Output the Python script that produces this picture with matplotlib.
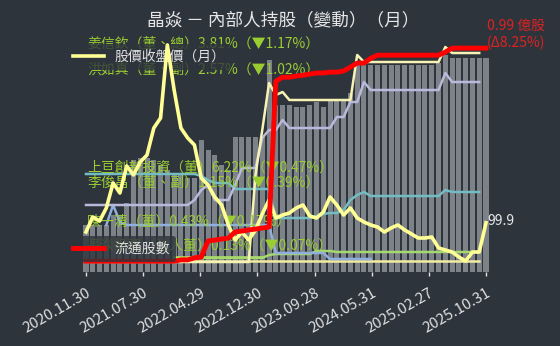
import numpy as np
import matplotlib.pyplot as plt
from matplotlib.lines import Line2D

plt.rcParams['font.family'] = ['Noto Sans CJK TC', 'DejaVu Sans']

BG = '#2e343c'
nan = np.nan

# x tick labels (8 evenly spread points over the monthly index)
tick_labels = ['2020.11.30', '2021.07.30', '2022.04.29', '2022.12.30',
               '2023.09.28', '2024.05.31', '2025.02.27', '2025.10.31']

# monthly close price
price = [89.4, 106.5, 101.9, 116.7, 145.1, 133.7, 164.4, 154.2, 168.9, 176.9,
         207.5, 218.9, 301.8, 250.7, 207.5, 196.2, 188.2, 150.7, 142.8, 129.2,
         120.1, 97.4, 80.3, 89.4, 80.3, 91.7, 110.0, 125.8, 105.3, 108.7,
         111.0, 116.7, 120.1, 107.6, 105.3, 112.1, 129.2, 120.1, 108.7, 116.7,
         105.3, 100.8, 97.4, 95.1, 89.4, 94.0, 97.4, 91.7, 87.2, 82.6,
         82.6, 83.7, 71.3, 69.0, 66.7, 61.0, 56.5, 66.7, 66.7, 99.9]

# shares outstanding (億股)
shares = [0.91453] * 14 + [0.9150, 0.9150, 0.9157, 0.9160, 0.9217, 0.9220, 0.9224,
          0.9227, 0.9249, 0.9252, 0.9256, 0.9259, 0.9263, 0.9266,
          0.9783, 0.9797, 0.9797, 0.9801, 0.9804, 0.9808, 0.9812, 0.9812,
          0.9815, 0.9815, 0.9819, 0.9833, 0.9847, 0.9847, 0.9864] \
         + [0.9875] * 10 + [0.9886] + [0.9900] * 6

# total insider holding (bars)
holding_total = [12.39, 12.39, 12.39, 12.39, 12.90, 12.90, 13.51, 15.70, 15.80, 15.80,
                 15.70, 15.44, 15.19, 14.93, 14.93, 14.78, 14.78, 16.71, 16.20, 15.95,
                 15.44, 15.19, 16.86, 16.86, 16.86, 16.86, 16.86, 20.78, 18.49, 18.49,
                 18.49, 18.39, 18.39, 18.49, 18.64, 18.39, 18.75, 18.75, 18.75, 19.10,
                 20.53, 20.53, 20.53, 20.53, 20.53, 20.53, 20.53, 20.53, 20.53, 20.53,
                 20.53, 20.53, 20.63, 21.03, 20.88, 20.88, 20.88, 20.88, 20.88, 20.88]

# individual insiders
h_jiang = [0.20] * 25 + [1.94, 2.84, 3.78, 3.54, 3.60] + [3.44] * 10 + [4.34] \
          + [4.20] * 12 + [4.50] + [4.38] * 5 + [nan]
h_hong = [1.34] * 16 + [1.44, 1.64, 1.74, 1.44, 1.44, 1.44, 1.74, 2.08, 2.08, 2.08,
                        2.68, 2.84, 2.84, 3.04] + [2.88] * 7 + [3.10, 3.10, 3.40, 3.40, 3.80] \
         + [3.64] * 11 + [3.98] + [3.80] * 5 + [nan]
h_shanggen = [1.96] * 17 + [1.92, 1.84, 1.78, 1.78, 1.78] + [1.66] * 6 + [1.08] * 6 \
             + [1.12, 1.16, 1.18, 1.18, 1.24, 1.44, 1.54, 1.60] + [1.52] * 11 + [1.64] \
             + [1.60] * 5 + [nan]
h_chen = [nan] * 3 + [0.94, 1.34, 1.00] + [0.94] * 22 + [0.38] * 8 + [0.26] * 7 + [nan] * 17
h_green = [nan] * 16 + [0.28] * 11 + [0.34] + [0.36] * 6 + [0.42] * 3 + [0.40] * 22 + [nan]
h_lime = [nan] * 13 + [0.30] * 14 + [nan] * 33
h_pale = [nan] * 15 + [0.22] * 44 + [nan]

label_names = ['姜信欽（董、總）', '洪如真（董、副）', '上亘創新投資（董）',
               '李俊昌（董、副）', '陳一清（董）', '晶焱投資（法人董）']
label_pcts = ['3.81%', '2.57%', '6.22%', '1.15%', '0.43%', '0.13%']
label_chg = ['▼1.17%', '▼1.02%', '▼0.47%', '▼0.39%', '▼0.17%', '▼0.07%']
label_y = [0.966, 0.856, 0.441, 0.377, 0.212, 0.110]

n = len(price)
idx = np.arange(n)

fig = plt.figure(figsize=(5.6, 3.46), dpi=100, facecolor=BG)
rect = [80.3 / 560, 74 / 346, 411.4 / 560, 236 / 346]

ax_bar = fig.add_axes(rect, zorder=1)
ax_bar.set_facecolor(BG)
ax_bar.bar(idx, holding_total, width=0.74, color='#7d8288')
ax_bar.set_ylim(10, 22)
ax_bar.set_xlim(-0.84, n - 1 + 0.84)
for s in ax_bar.spines.values():
    s.set_visible(False)
ax_bar.set_yticks([])
ax_bar.set_xticks(np.linspace(0, n - 1, 8))
ax_bar.set_xticklabels(tick_labels, rotation=30, ha='right', rotation_mode='anchor',
                       color='#e0e0e0', fontsize=10.8)
ax_bar.tick_params(axis='x', colors='#e0e0e0', length=3, width=1, pad=7)


def overlay(z):
    a = ax_bar.twinx()
    a.set_zorder(z)
    a.patch.set_visible(False)
    a.axis('off')
    return a


# insider lines
ax_h = overlay(2)
ax_h.set_ylim(0, 4.72)
ax_h.plot(idx, h_pale, color='#f3eca0', lw=1.8)
ax_h.plot(idx, h_lime, color='#b8e65a', lw=1.8)
ax_h.plot(idx, h_green, color='#a5d86e', lw=1.8)
ax_h.plot(idx, h_chen, color='#8fb0dc', lw=1.8)
ax_h.plot(idx, h_shanggen, color='#74bcc4', lw=1.8)
ax_h.plot(idx, h_hong, color='#b9b9dc', lw=1.8)
ax_h.plot(idx, h_jiang, color='#f7f3b4', lw=1.8)
for name, pct, chg, y in zip(label_names, label_pcts, label_chg, label_y):
    ax_h.text(0.0163, y, f'{name}{pct}（{chg}）', transform=ax_h.transAxes,
              color='#9acd32', fontsize=10, va='center', ha='left')

price_color = '#ffff96'
ax_h.legend(handles=[Line2D([], [], color=price_color, lw=2.6)], labels=['股價收盤價（月）'],
            loc='center left', bbox_to_anchor=(67.7 / 560, 1 - 57 / 346),
            bbox_transform=fig.transFigure, frameon=True, facecolor=BG, framealpha=0.8,
            edgecolor='none', fontsize=10, labelcolor='#e0e0e0', handlelength=2.2,
            handletextpad=0.8, borderpad=0.4, borderaxespad=0)

# price
ax_p = overlay(3)
ax_p.set_ylim(44, 312)
ax_p.plot(idx, price, color=price_color, lw=2.6)
ax_p.annotate(f'{price[-1]:.1f}', xy=(n - 1, price[-1]), xytext=(1, 2),
              textcoords='offset pixels', color='#e8e8e8', fontsize=10,
              va='center', ha='left', annotation_clip=False)

# shares outstanding
ax_s = overlay(4)
ax_s.set_ylim(0.9107, 0.9943)
ax_s.plot(idx, shares, color='#ff0000', lw=3.5)
delta = (shares[-1] / shares[0] - 1) * 100
ax_s.annotate(f'{shares[-1]:.2f} 億股\n(Δ{delta:.2f}%)', xy=(n - 1, shares[-1]),
              xytext=(1, -2), textcoords='offset pixels', color='#dd2222', fontsize=10,
              va='bottom', ha='left', linespacing=1.2, annotation_clip=False)
ax_s.legend(handles=[Line2D([], [], color='#ff0000', lw=3.5)], labels=['流通股數'],
            loc='center left', bbox_to_anchor=(67.7 / 560, 1 - 249 / 346),
            bbox_transform=fig.transFigure, frameon=True, facecolor=BG, framealpha=0.8,
            edgecolor='none', fontsize=10, labelcolor='#e0e0e0', handlelength=2.2,
            handletextpad=0.8, borderpad=0.4, borderaxespad=0)

fig.text(283 / 560, 1 - 20 / 346, '晶焱 － 內部人持股（變動）（月）', ha='center', va='center',
         color='#e6e6e6', fontsize=12.7)

fig.savefig('out.png', dpi=100, facecolor=BG)
